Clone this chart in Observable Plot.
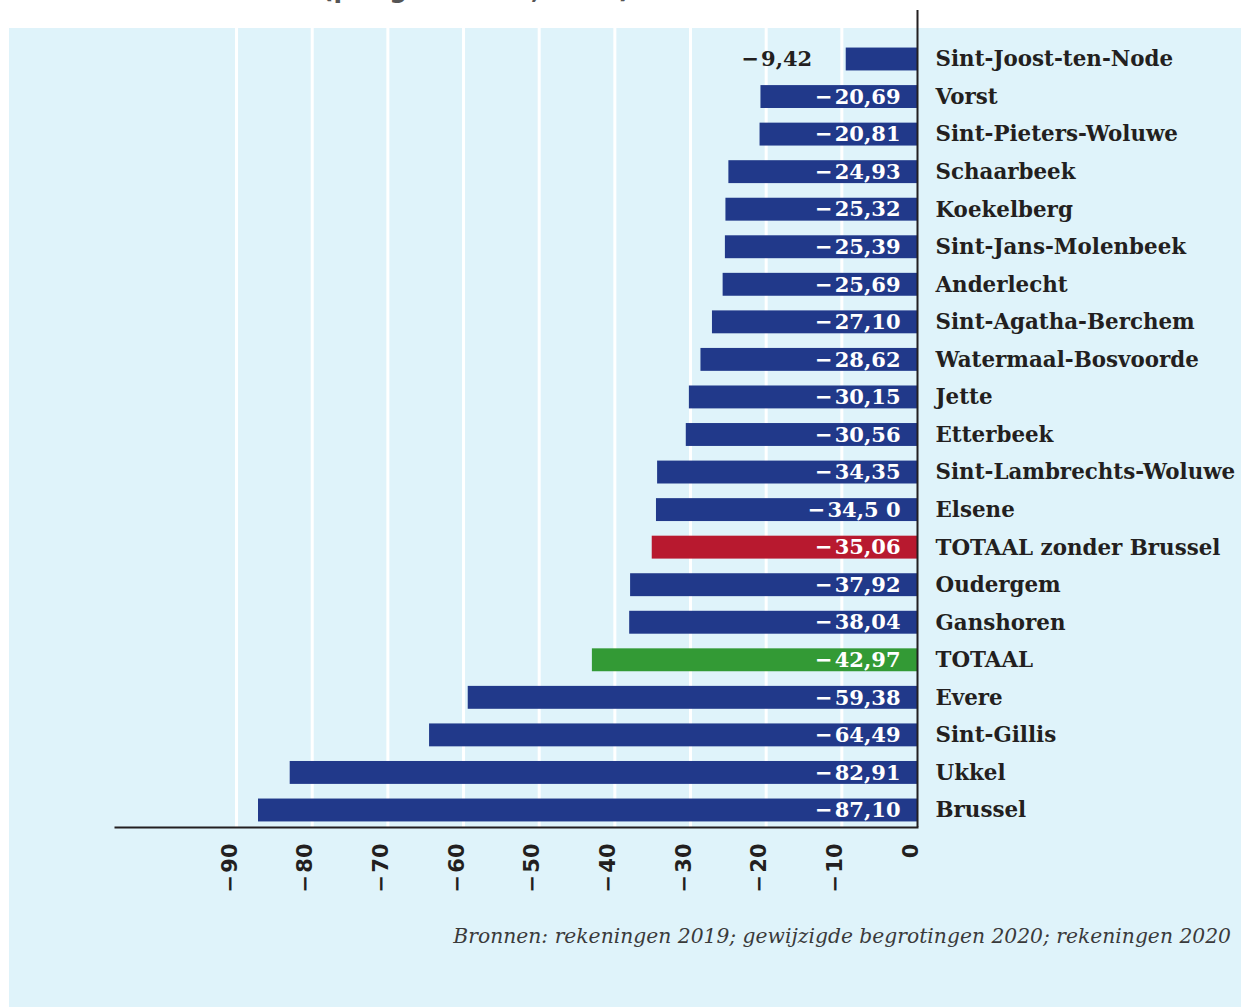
<!DOCTYPE html>
<html><head><meta charset="utf-8">
<script src="https://cdn.jsdelivr.net/npm/d3@7"></script>
<script src="https://cdn.jsdelivr.net/npm/@observablehq/plot@0.6"></script>
<style>
html,body{margin:0;padding:0;background:#fff;}
body{width:1241px;height:1007px;position:relative;overflow:hidden;font-family:"DejaVu Serif",serif;}
#panel{position:absolute;left:9px;top:28px;width:1232px;height:979px;background:#dff3fa;}
#chart{position:absolute;left:0;top:0;}
#titleclip{position:absolute;left:0;top:0;width:1241px;height:9px;overflow:hidden;}
#title{position:absolute;left:322px;top:-25px;font-family:"DejaVu Sans",sans-serif;font-weight:bold;font-size:25px;line-height:30px;color:#555;white-space:nowrap;}
#caption{position:absolute;right:10px;top:924px;font-family:"DejaVu Serif",serif;font-style:italic;font-size:20.3px;color:#3a3a3a;white-space:nowrap;}
</style>
</head><body>
<div id="panel"></div>
<div id="titleclip"><div id="title">(per gemeente, 2020)</div></div>
<div id="chart"></div>
<div id="caption">Bronnen: rekeningen 2019; gewijzigde begrotingen 2020; rekeningen 2020</div>
<script>
const names = ["Sint-Joost-ten-Node","Vorst","Sint-Pieters-Woluwe","Schaarbeek","Koekelberg","Sint-Jans-Molenbeek","Anderlecht","Sint-Agatha-Berchem","Watermaal-Bosvoorde","Jette","Etterbeek","Sint-Lambrechts-Woluwe","Elsene","TOTAAL zonder Brussel","Oudergem","Ganshoren","TOTAAL","Evere","Sint-Gillis","Ukkel","Brussel"];
const values = [-9.42,-20.69,-20.81,-24.93,-25.32,-25.39,-25.69,-27.10,-28.62,-30.15,-30.56,-34.35,-34.50,-35.06,-37.92,-38.04,-42.97,-59.38,-64.49,-82.91,-87.10];
const valueLabels = ["9,42","20,69","20,81","24,93","25,32","25,39","25,69","27,10","28,62","30,15","30,56","34,35","34,5 0","35,06","37,92","38,04","42,97","59,38","64,49","82,91","87,10"];
const kinds = ["gemeente","gemeente","gemeente","gemeente","gemeente","gemeente","gemeente","gemeente","gemeente","gemeente","gemeente","gemeente","gemeente","zonder","gemeente","gemeente","totaal","gemeente","gemeente","gemeente","gemeente"];
const xTicks = [-90,-80,-70,-60,-50,-40,-30,-20,-10,0];
const xTickLabels = ["90","80","70","60","50","40","30","20","10","0"];

const data = names.map((n,i)=>({name:n, value:values[i], label:"\u2212\u200A"+valueLabels[i], kind:kinds[i]}));
const ticks = xTicks.map((t,i)=>({t, label: t<0 ? "\u2212\u200A"+xTickLabels[i] : xTickLabels[i]}));

const chart = Plot.plot({
  width:1241, height:900,
  marginLeft:115, marginRight:324, marginTop:10, marginBottom:73,
  style:{background:"transparent", overflow:"visible"},
  x:{domain:[-106,0], axis:null},
  y:{domain:names, axis:null, paddingInner:0.39, paddingOuter:0.574, align:0.871, round:false},
  color:{domain:["gemeente","zonder","totaal"], range:["#21398a","#b8192f","#339a35"]},
  marks:[
    Plot.ruleX(xTicks.filter(t=>t<0), {stroke:"#ffffff", strokeWidth:3}),
    Plot.barX(data, {x:"value", y:"name", fill:"kind"}),
    Plot.ruleX([0], {stroke:"#231f20", strokeWidth:2}),
    Plot.frame({anchor:"bottom", stroke:"#231f20", strokeWidth:2}),
    Plot.text(data.filter(d=>d.value < -15), {x:0, y:"name", text:"label", dx:-17, textAnchor:"end", fill:"#ffffff", fontWeight:"bold", fontSize:21, fontFamily:"DejaVu Serif"}),
    Plot.text(data.filter(d=>d.value >= -15), {x:"value", y:"name", text:"label", dx:-34, textAnchor:"end", fill:"#231f20", fontWeight:"bold", fontSize:21, fontFamily:"DejaVu Serif"}),
    Plot.text(data, {x:0, y:"name", text:"name", dx:18, textAnchor:"start", fill:"#231f20", fontWeight:"bold", fontSize:21.4, fontFamily:"DejaVu Serif"}),
    Plot.text(ticks, {x:"t", text:"label", frameAnchor:"bottom", dy:16, rotate:-90, textAnchor:"end", fill:"#231f20", fontWeight:"bold", fontSize:21, fontFamily:"DejaVu Sans"})
  ]
});
document.getElementById("chart").appendChild(chart);
</script>
</body></html>
